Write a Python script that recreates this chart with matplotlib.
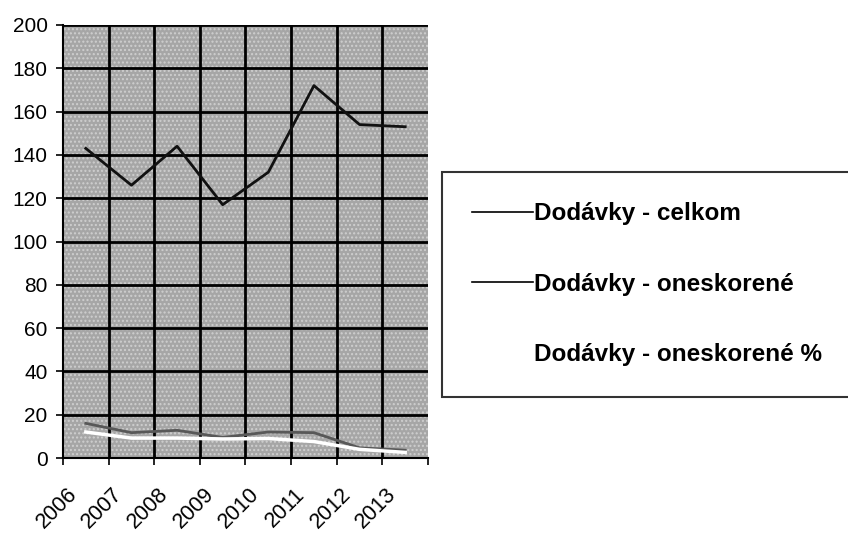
import matplotlib
matplotlib.use("Agg")
import matplotlib.pyplot as plt
from matplotlib.lines import Line2D

years = ["2006", "2007", "2008", "2009", "2010", "2011", "2012", "2013"]
celkom = [143, 126, 144, 117, 132, 172, 154, 153]
oneskorene = [16, 11.7, 12.8, 9.5, 12, 11.7, 4.7, 3.6]
oneskorene_pct = [12, 9.2, 9.2, 8.8, 9, 7.6, 4, 2.6]
yticks = list(range(0, 201, 20))

plt.rcParams['font.family'] = ['Liberation Sans', 'DejaVu Sans']

fig = plt.figure(figsize=(8.48, 5.37), dpi=100)
ax = fig.add_axes([63/848, 1-458/537, (428-63)/848, (458-25)/537])
ax.set_facecolor('#a6a6a6')
ax.patch.set_hatch('....')
ax.patch.set_edgecolor('#cfcfcf')
ax.patch.set_linewidth(0)

x = list(range(len(years)))
ax.plot(x, celkom, color='#111111', lw=2.0, zorder=3)
ax.plot(x, oneskorene, color='#585858', lw=2.0, zorder=3)
ax.plot(x, oneskorene_pct, color='white', lw=2.5, zorder=3)

ax.set_xlim(-0.5, 7.5)
ax.set_ylim(0, 200)
ax.set_yticks(yticks)
ax.set_yticklabels([str(v) for v in yticks], fontsize=15)
bounds = [i - 0.5 for i in range(len(years) + 1)]
ax.set_xticks(bounds)
ax.set_xticklabels([""] * len(bounds))
ax.set_xticks([b + 0.24 for b in bounds[:-1]], minor=True)
ax.set_xticklabels(years, minor=True, fontsize=15.5, rotation=45, ha='right',
                   va='center', rotation_mode='anchor')
ax.tick_params(axis='x', which='major', length=5, width=1.2)
ax.tick_params(axis='x', which='minor', length=0, pad=24)
ax.tick_params(axis='y', length=5, width=1.2, pad=6)

for v in bounds[1:-1]:
    ax.axvline(v, color='black', lw=2, zorder=2)
for v in yticks[1:]:
    ax.axhline(v, color='black', lw=2, zorder=2)

for s in ['top', 'right']:
    ax.spines[s].set_visible(False)
ax.spines['left'].set_linewidth(1.5)
ax.spines['bottom'].set_linewidth(1.5)

handles = [Line2D([], [], color='black', lw=1.2),
           Line2D([], [], color='black', lw=1.2),
           Line2D([], [], color='white', lw=1.2)]
labels = ['Dodávky - celkom', 'Dodávky - oneskorené', 'Dodávky - oneskorené %']
leg = fig.legend(handles, labels, loc='upper left',
                 bbox_to_anchor=(442/848, 1-397/537, (850-442)/848, (397-172)/537),
                 mode='expand', frameon=True, fancybox=False,
                 prop={'weight': 'bold', 'size': 17.5},
                 handlelength=2.5, handletextpad=0.05, labelspacing=1.95,
                 borderpad=1.25, borderaxespad=0)
leg.get_frame().set_edgecolor('black')
leg.get_frame().set_linewidth(1.5)

fig.savefig('out.png', dpi=100)
